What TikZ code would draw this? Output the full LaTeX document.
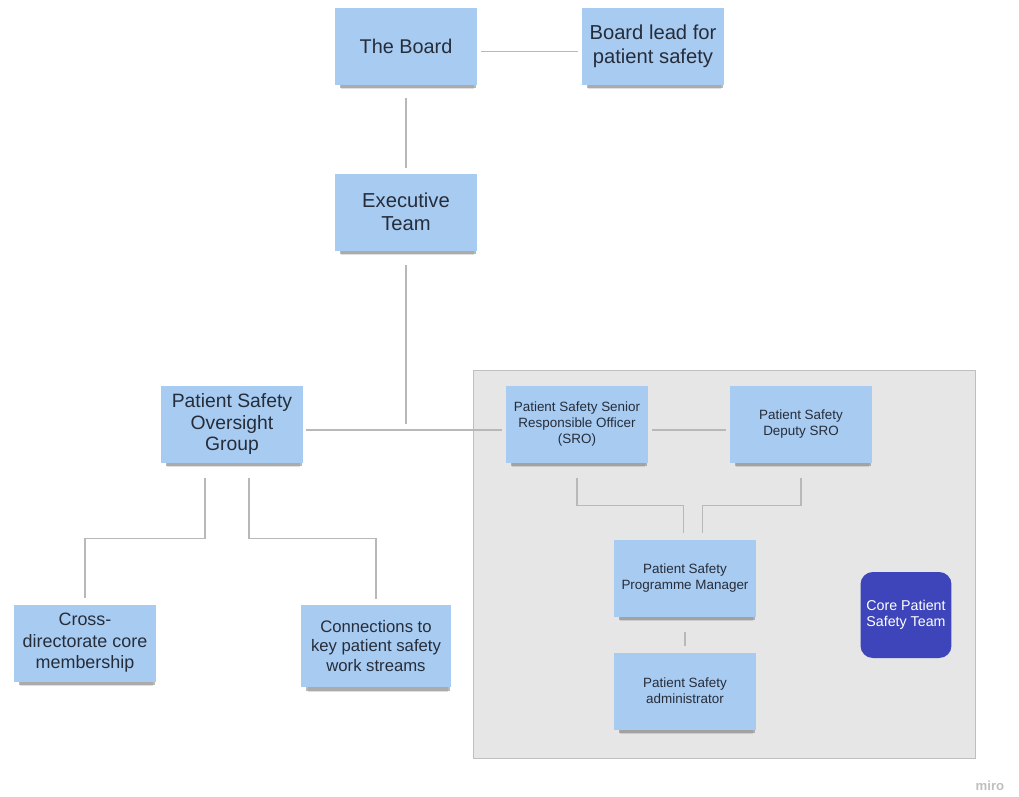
\documentclass[tikz,border=0pt]{standalone}
\usepackage{fontspec}
\setmainfont{Liberation Sans}
\usetikzlibrary{shadows}

\definecolor{noteblue}{RGB}{168,203,241}
\definecolor{notetext}{RGB}{38,45,58}
\definecolor{panelgray}{RGB}{230,230,230}
\definecolor{teamblue}{RGB}{62,69,186}

\begin{document}
\begin{tikzpicture}[x=0.02cm,y=-0.02cm,
  note/.style={fill=noteblue, text=notetext, minimum width=2.86cm, minimum height=1.54cm, align=center,
    inner sep=2pt,
    drop shadow={shadow xshift=1.2pt, shadow yshift=-4.6pt, shadow scale=0.93, opacity=0.25},
    drop shadow={shadow xshift=1.2pt, shadow yshift=-3.4pt, shadow scale=0.95, opacity=0.55}},
  sz/.style 2 args={font=\fontsize{#1}{#2}\selectfont},
  link/.style={draw=black!28, line width=0.6pt}]
\useasboundingbox (0,0) rectangle (1019,796);

% core team panel
\draw[fill=panelgray, draw=black!25, line width=0.5pt] (473,370) rectangle (975,758);

\node[note,sz={11.3}{13.6}] (board) at (406,46) {The Board};
\node[note,sz={11.5}{13.6}] (lead) at (653,46) {Board lead for\\patient safety};
\node[note,sz={11.5}{13.2}] (exec) at (406,212) {Executive\\Team};
\node[note,sz={11}{12.5}] (psog) at (232,424) {Patient Safety\\Oversight\\Group};
\node[note,sz={10.2}{12.2}] (cross) at (85,643) {Cross-\\directorate core\\membership};
\node[note,sz={9.5}{10.9}, minimum width=3.02cm, minimum height=1.64cm] (conn) at (376,646) {Connections to\\key patient safety\\work streams};

\node[note,sz={7.65}{9}] (sro) at (577,424) {Patient Safety Senior\\Responsible Officer\\(SRO)};
\node[note,sz={7.65}{9}] (dep) at (801,424) {Patient Safety\\Deputy SRO};
\node[note,sz={7.65}{9}] (pm) at (685,578) {Patient Safety\\Programme Manager};
\node[note,sz={7.65}{9}] (admin) at (685,691) {Patient Safety\\administrator};

\node[fill=teamblue, rounded corners=7pt, minimum width=1.82cm, minimum height=1.72cm,
  align=center, text=white, sz={8.1}{9.4}] (team) at (906,615) {Core Patient\\Safety Team};

\node[text=black!25, sz={7.5}{9}] (miro) at (990,786) {\bfseries miro};

% connectors
\draw[link, shorten <=2pt, shorten >=2pt] ([yshift=-3pt]board.east) -- ([yshift=-3pt]lead.west);
\draw[link, shorten <=7.4pt, shorten >=2.8pt] (board.south) -- (exec.north);
\draw[link, shorten <=8pt] (exec.south) -- (exec.south |- psog.east);
\draw[link, shorten <=1pt, shorten >=2pt] ([yshift=-3.4pt]psog.east) -- ([yshift=-3.4pt]sro.west);
\draw[link, shorten <=2pt, shorten >=2pt] ([yshift=-3.4pt]sro.east) -- ([yshift=-3.4pt]dep.west);
\draw[link, shorten >=3.4pt] (sro.south) ++(0,15) -- ++(0,28) -| ([xshift=-0.6pt]pm.north);
\draw[link, shorten >=3.4pt] (dep.south) ++(0,15) -- ++(0,28) -| ([xshift=9.7pt]pm.north);
\draw[link, shorten <=8.5pt, shorten >=3.4pt] (pm.south) -- (admin.north);
\draw[link, shorten >=3.4pt] (psog.south) ++(-27,15) -- ++(0,61) -| (cross.north);
\draw[link, shorten >=3.4pt] (psog.south) ++(17,15) -- ++(0,61) -| (conn.north);
\end{tikzpicture}
\end{document}
